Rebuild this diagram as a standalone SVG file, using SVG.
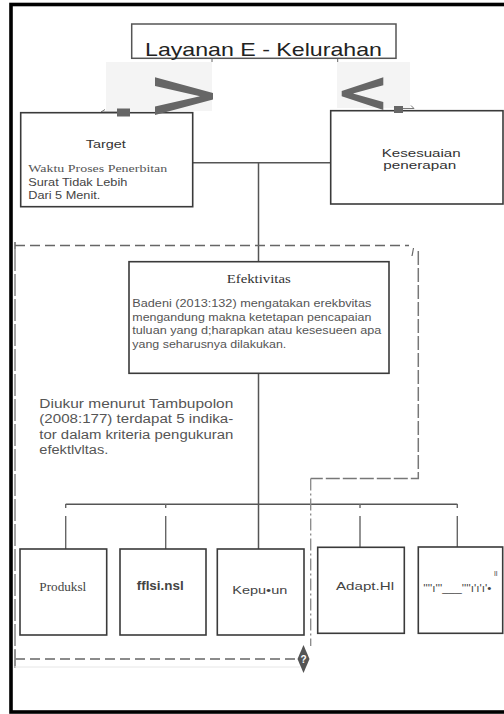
<svg xmlns="http://www.w3.org/2000/svg" width="504" height="714" viewBox="0 0 504 714">
<style>
.box{fill:#fff;stroke:#3a3a3a;stroke-width:1.6}
.sans{font-family:"Liberation Sans",Arial,sans-serif}
.serif{font-family:"Liberation Serif","Times New Roman",serif}
.con{fill:none;stroke:#555;stroke-width:1.5}
.drop{fill:none;stroke:#666;stroke-width:1.4}
.dash{fill:none;stroke:#666;stroke-width:1.5;stroke-dasharray:10 5}
.head{fill:#666}
</style>
<rect x="0" y="0" width="504" height="714" fill="#fff"/>
<rect x="11" y="4.5" width="500" height="707.5" fill="none" stroke="#000" stroke-width="3.6"/>

<g id="connectors">
  <!-- faint patches behind arrowheads -->
  <rect x="106" y="62" width="106" height="49" fill="#f4f4f4"/>
  <rect x="337" y="62" width="73" height="46" fill="#f4f4f4"/>
  <path d="M117 112 H101 M101 112 l4 -2.5 M101 112 l4 2.5" fill="none" stroke="#777" stroke-width="1"/>
  <path d="M403 108.5 H414 l-3 -3" fill="none" stroke="#777" stroke-width="1"/>
  <path d="M212 58.5 V62 M337.7 58.5 V62" stroke="#666" stroke-width="1"/>
  <!-- main connectors -->
  <path class="con" d="M193 162.7 H331"/>
  <path class="con" d="M258.5 162.7 V262 M258.5 373 V549"/>
  <path class="con" d="M65.7 504.3 H457.3"/>
  <path class="drop" d="M65.7 504 V508 M65.7 516 V549 M165.7 504 V508 M165.7 516 V549 M360 504 V508 M360 516 V547.5 M457.3 504 V508 M457.3 516 V547"/>
  <!-- dashed frame -->
  <path class="dash" d="M15 245.5 H409"/>
  <path d="M15 242 V249" stroke="#666" stroke-width="1.5"/>
  <path d="M412 256 L413.5 248" stroke="#666" stroke-width="1.2"/>
  <path class="dash" d="M15 249 V666" style="stroke-dasharray:22 3;stroke:#888"/>
  <path d="M418.3 251 V478.5 H310.7" fill="none" stroke="#777" stroke-width="1.5" stroke-dasharray="14 3"/>
  <path d="M310.7 478.5 V646" fill="none" stroke="#888" stroke-width="1.3" stroke-dasharray="12 3 2 3"/>
  <path class="dash" d="M15 659 H296"/>
  <path d="M15 650 V668" stroke="#888" stroke-width="1.3"/>
  <path d="M15 667 H300" stroke="#e6e6e6" stroke-width="1"/>
  <polygon points="303.5,645 309.5,659 303.5,673 297.5,659" fill="#555"/>
  <text class="sans" x="303.5" y="663" font-size="10" font-weight="bold" fill="#fff" text-anchor="middle">?</text>
</g>

<g id="title">
  <rect x="131.7" y="24" width="264.3" height="34.3" fill="#fff" stroke="#555" stroke-width="1.5"/>
  <text class="sans" x="145" y="56" font-size="19" fill="#222" textLength="237" lengthAdjust="spacingAndGlyphs">Layanan E - Kelurahan</text>
</g>

<g id="target">
  <rect class="box" x="20.7" y="112.7" width="172" height="94"/>
  <text class="sans" x="85.7" y="148.3" font-size="11.5" fill="#333" textLength="40" lengthAdjust="spacingAndGlyphs">Target</text>
  <text class="serif" x="28.3" y="171.5" font-size="11" fill="#555" textLength="139" lengthAdjust="spacingAndGlyphs">Waktu Proses Penerbitan</text>
  <text class="sans" x="28.3" y="185.5" font-size="10.5" fill="#444" textLength="99" lengthAdjust="spacingAndGlyphs">Surat Tidak Lebih</text>
  <text class="sans" x="28.3" y="199" font-size="10.5" fill="#444" textLength="72" lengthAdjust="spacingAndGlyphs">Dari 5 Menit.</text>
</g>

<g id="kesesuaian">
  <rect class="box" x="330.7" y="110.7" width="172.3" height="93.3"/>
  <text class="sans" x="381.7" y="157" font-size="11" fill="#333" textLength="79" lengthAdjust="spacingAndGlyphs">Kesesuaian</text>
  <text class="sans" x="383.3" y="168.8" font-size="11" fill="#333" textLength="73" lengthAdjust="spacingAndGlyphs">penerapan</text>
</g>

<g id="arrowheads">
  <polygon class="head" points="155,77.3 213,93 213,99.5 155,115 155,106.5 200,96.2 155,86"/>
  <polygon class="head" points="383.3,77.3 341.7,91 341.7,96.3 383.3,110 383.3,102 353,93.6 383.3,85.3"/>
  <rect x="117" y="108.5" width="13" height="8" fill="#666"/>
  <rect x="394" y="106" width="9" height="7" fill="#666"/>
</g>

<g id="efektivitas">
  <rect class="box" x="129" y="261.7" width="260" height="111.6" stroke-width="2"/>
  <text class="serif" x="226.7" y="283.3" font-size="12" fill="#333" textLength="64" lengthAdjust="spacingAndGlyphs">Efektivitas</text>
  <text class="sans" x="132.3" y="306.5" font-size="10" fill="#555" textLength="239" lengthAdjust="spacingAndGlyphs">Badeni (2013:132) mengatakan erekbvitas</text>
  <text class="sans" x="132.3" y="320.7" font-size="10" fill="#555" textLength="239" lengthAdjust="spacingAndGlyphs">mengandung makna ketetapan pencapaian</text>
  <text class="sans" x="132.3" y="334.3" font-size="10" fill="#555" textLength="249" lengthAdjust="spacingAndGlyphs">tuluan yang d;harapkan atau kesesueen apa</text>
  <text class="sans" x="132.3" y="347.5" font-size="10" fill="#555" textLength="154" lengthAdjust="spacingAndGlyphs">yang seharusnya dilakukan.</text>
</g>

<g id="keterangan">
  <text class="sans" x="39.3" y="407.7" font-size="12.5" fill="#555" textLength="194" lengthAdjust="spacingAndGlyphs">Diukur menurut Tambupolon</text>
  <text class="sans" x="39.3" y="423" font-size="12.5" fill="#555" textLength="194" lengthAdjust="spacingAndGlyphs">(2008:177) terdapat 5 indika-</text>
  <text class="sans" x="39.3" y="438.5" font-size="12.5" fill="#555" textLength="194" lengthAdjust="spacingAndGlyphs">tor dalam  kriteria pengukuran</text>
  <text class="sans" x="39.3" y="454" font-size="12.5" fill="#555" textLength="69" lengthAdjust="spacingAndGlyphs">efektlvltas.</text>
</g>

<g id="produksi">
  <rect class="box" x="20" y="549" width="86.7" height="86" stroke-width="1.8"/>
  <text class="serif" x="39.3" y="590.7" font-size="12" fill="#444" textLength="47" lengthAdjust="spacingAndGlyphs">Produksl</text>
</g>
<g id="efisiensi">
  <rect class="box" x="120" y="549" width="86" height="86" stroke-width="1.8"/>
  <text class="sans" x="136.7" y="590" font-size="12" font-weight="bold" fill="#444" textLength="47" lengthAdjust="spacingAndGlyphs">fflsi.nsl</text>
</g>
<g id="kepuasan">
  <rect class="box" x="217.3" y="549" width="86.7" height="86" stroke-width="1.8"/>
  <text class="sans" x="232.3" y="594" font-size="10.5" fill="#444" textLength="55" lengthAdjust="spacingAndGlyphs">Kepu•un</text>
</g>
<g id="adaptasi">
  <rect class="box" x="317.7" y="547.3" width="86.6" height="86" stroke-width="1.8"/>
  <text class="sans" x="336" y="590" font-size="11.5" fill="#444" textLength="58" lengthAdjust="spacingAndGlyphs">Adapt.Hl</text>
</g>
<g id="indikator5">
  <rect class="box" x="418.3" y="547" width="84.4" height="86.3" stroke-width="1.8"/>
  <text class="sans" x="423.3" y="592" font-size="10" fill="#444" textLength="68" lengthAdjust="spacingAndGlyphs">''''ı'''___''''ı'ı'ı'•</text>
  <text class="sans" x="494" y="576" font-size="8" fill="#555">ll</text>
</g>
</svg>
